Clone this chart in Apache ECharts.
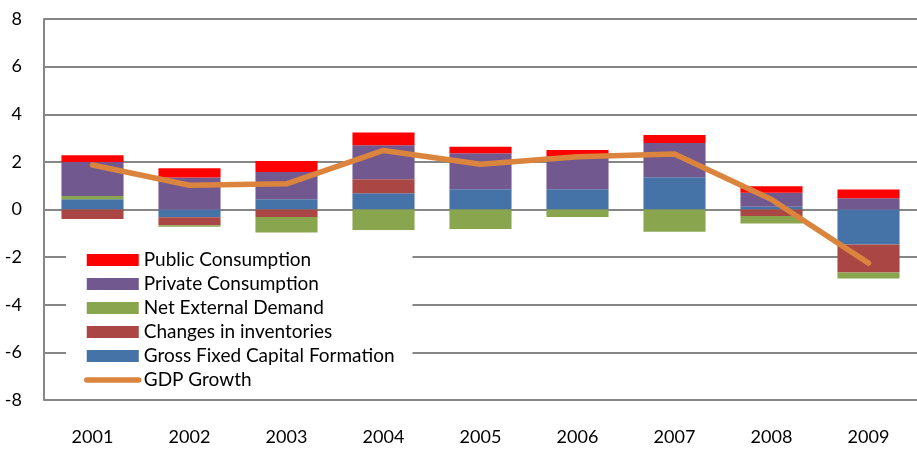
<!DOCTYPE html>
<html>
<head>
<meta charset="utf-8">
<script src="https://cdn.jsdelivr.net/npm/echarts@6/dist/echarts.min.js"></script>
<style>
  html, body { margin: 0; padding: 0; background: #fff; }
  #chart { width: 917px; height: 450px; }
</style>
</head>
<body>
<div id="chart"></div>
<script>
// Contributions to GDP growth (percentage points), 2001-2009
const years = ['2001', '2002', '2003', '2004', '2005', '2006', '2007', '2008', '2009'];
const grossFixedCapital = [0.43, -0.33, 0.43, 0.68, 0.85, 0.85, 1.35, 0.12, -1.47];
const inventories = [-0.40, -0.33, -0.31, 0.59, 0, 0, 0, -0.27, -1.18];
const netExternal = [0.14, -0.06, -0.66, -0.86, -0.82, -0.32, -0.93, -0.32, -0.25];
const privateConsumption = [1.43, 1.34, 1.15, 1.43, 1.51, 1.40, 1.44, 0.58, 0.47];
const publicConsumption = [0.28, 0.39, 0.46, 0.53, 0.27, 0.25, 0.34, 0.28, 0.37];
const gdpGrowth = [1.87, 1.02, 1.08, 2.48, 1.90, 2.22, 2.33, 0.42, -2.25];

const yTicks = { min: -8, max: 8, step: 2 };

const FONT = 'Lato, "Open Sans", sans-serif';
const GDP_COLOR = '#DB843D';

function barSeries(name, data, color) {
  return {
    name: name,
    type: 'bar',
    stack: 'contrib',
    barWidth: '64%',
    data: data,
    itemStyle: { color: color },
    emphasis: { disabled: true }
  };
}

const chart = echarts.init(document.getElementById('chart'), null, { renderer: 'canvas' });

chart.setOption({
  animation: false,
  backgroundColor: '#ffffff',
  grid: { left: 44, right: -14, top: 19, bottom: 50, containLabel: false },
  legend: {
    orient: 'vertical',
    left: 66,
    top: 248,
    padding: [0, 18, 4, 18],
    backgroundColor: '#ffffff',
    itemWidth: 52,
    itemHeight: 12,
    itemGap: 0,
    textStyle: { fontFamily: FONT, fontSize: 19, color: '#000', lineHeight: 24 },
    data: [
      { name: 'Public Consumption', icon: 'rect' },
      { name: 'Private Consumption', icon: 'rect' },
      { name: 'Net External Demand', icon: 'rect' },
      { name: 'Changes in inventories', icon: 'rect' },
      { name: 'Gross Fixed Capital Formation', icon: 'rect' },
      {
        name: 'GDP Growth',
        itemStyle: { opacity: 0 },
        lineStyle: { color: GDP_COLOR, width: 5.5, cap: 'round' }
      }
    ]
  },
  xAxis: {
    type: 'category',
    data: years,
    axisLine: { show: false, onZero: false },
    axisTick: { show: false },
    axisLabel: { fontFamily: FONT, fontSize: 18, color: '#000', margin: 28 },
    splitLine: { show: false }
  },
  yAxis: {
    type: 'value',
    min: yTicks.min,
    max: yTicks.max,
    interval: yTicks.step,
    axisLine: { show: true, lineStyle: { color: '#868686', width: 2 } },
    axisTick: { show: false },
    axisLabel: { fontFamily: FONT, fontSize: 18, color: '#000', margin: 22 },
    splitLine: { show: true, lineStyle: { color: '#868686', width: 2 } }
  },
  series: [
    barSeries('Gross Fixed Capital Formation', grossFixedCapital, '#4572A7'),
    barSeries('Changes in inventories', inventories, '#AA4643'),
    barSeries('Net External Demand', netExternal, '#89A54E'),
    barSeries('Private Consumption', privateConsumption, '#71588F'),
    barSeries('Public Consumption', publicConsumption, '#FF0000'),
    {
      name: 'GDP Growth',
      type: 'line',
      data: gdpGrowth,
      symbol: 'none',
      z: 5,
      lineStyle: { color: GDP_COLOR, width: 5.5, cap: 'round', join: 'round' },
      itemStyle: { color: GDP_COLOR },
      emphasis: { disabled: true }
    }
  ]
});
</script>
</body>
</html>
